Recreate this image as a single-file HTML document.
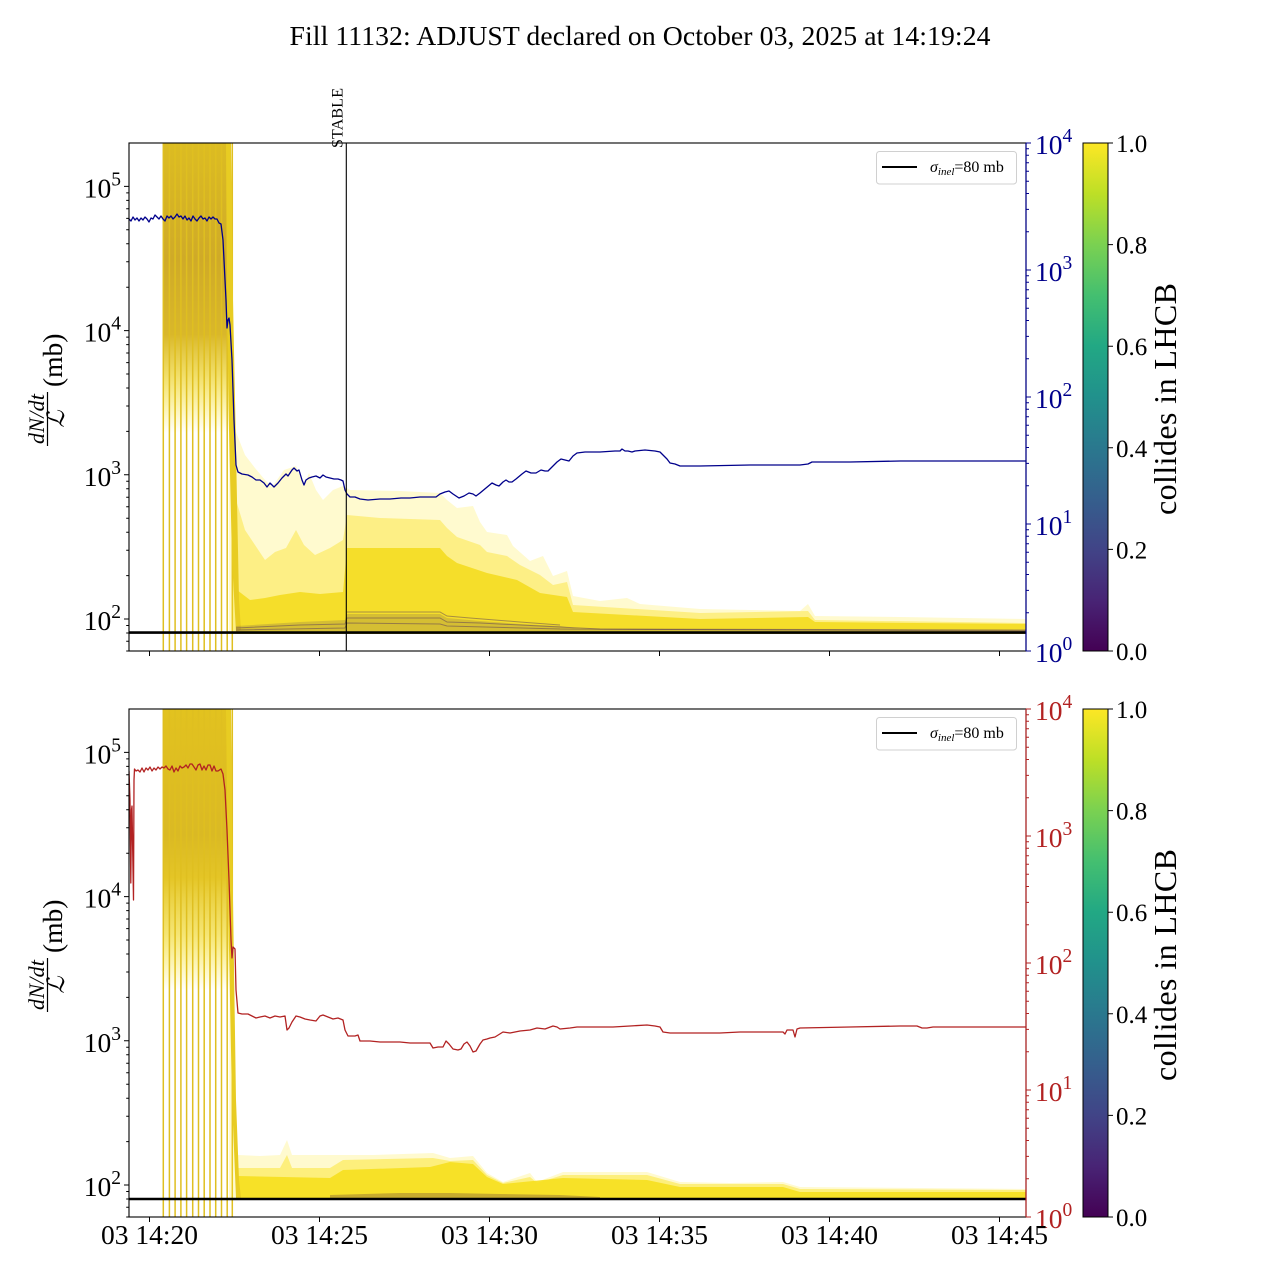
<!DOCTYPE html>
<html><head><meta charset="utf-8"><style>
body{margin:0;background:#fff}
svg{display:block}
text{font-family:"Liberation Serif","DejaVu Serif",serif;fill:#000}
</style></head><body>
<svg width="1280" height="1280" viewBox="0 0 1280 1280" xmlns="http://www.w3.org/2000/svg">
<defs>
<clipPath id="c1"><rect x="129" y="143" width="897" height="508"/></clipPath>
<clipPath id="c2"><rect x="129" y="709" width="897" height="508"/></clipPath>
<linearGradient id="gTop" gradientUnits="userSpaceOnUse" x1="0" y1="143" x2="0" y2="433">
<stop offset="0" stop-color="#dcbc22"/><stop offset="0.4" stop-color="#cfaa28"/>
<stop offset="0.66" stop-color="#d9b72a"/><stop offset="0.8" stop-color="#eed84e" stop-opacity="0.85"/>
<stop offset="1" stop-color="#fde725" stop-opacity="0"/></linearGradient>
<linearGradient id="gBot" gradientUnits="userSpaceOnUse" x1="0" y1="709" x2="0" y2="990">
<stop offset="0" stop-color="#e2c21f"/><stop offset="0.45" stop-color="#dab924"/>
<stop offset="0.6" stop-color="#e4c526"/><stop offset="0.8" stop-color="#f2de50" stop-opacity="0.8"/>
<stop offset="1" stop-color="#fde725" stop-opacity="0"/></linearGradient>
<linearGradient id="vir" x1="0" y1="1" x2="0" y2="0">
<stop offset="0" stop-color="#440154"/><stop offset="0.1" stop-color="#482475"/>
<stop offset="0.2" stop-color="#414487"/><stop offset="0.3" stop-color="#355f8d"/>
<stop offset="0.4" stop-color="#2a788e"/><stop offset="0.5" stop-color="#21918c"/>
<stop offset="0.6" stop-color="#22a884"/><stop offset="0.7" stop-color="#44bf70"/>
<stop offset="0.8" stop-color="#7ad151"/><stop offset="0.9" stop-color="#bddf26"/>
<stop offset="1" stop-color="#fde725"/></linearGradient>
</defs>
<rect width="1280" height="1280" fill="#fff"/>

<text x="640" y="45" text-anchor="middle" font-size="27.7" textLength="701">Fill 11132: ADJUST declared on October 03, 2025 at 14:19:24</text>

<!-- ============ TOP PANEL ============ -->
<g clip-path="url(#c1)">
<rect x="163" y="143" width="66" height="290" fill="url(#gTop)"/>
<g stroke="#dfbf20" stroke-width="1.5">
<path d="M163.3,143V651M169.4,143V651M175.1,143V651M180.9,143V651M186.6,143V651M192.7,143V651M198.5,143V651M204.2,143V651M210,143V651M215.7,143V651M221.5,143V651M227.2,143V651M232.3,143V651"/>
</g>
<polygon fill="#fde725" fill-opacity="0.22" points="229,143 231,143 233,330 236,432 245,455 255,468 265,480 272,487 284,470 296,466 304,485 309,473 316,490 323,500 333,490 343,486 350,490 400,491 440,493 447,500 457,508 473,506 480,522 487,532 507,535 513,546 530,561 543,556 553,576 567,571 573,596 600,601 627,598 640,604 700,609 800,611 808,604 815,616 900,617 1026,619 1026,634 229,634"/>
<polygon fill="#fbe32a" fill-opacity="0.45" points="233,420 236,500 245,530 255,545 265,560 275,552 286,548 296,530 304,545 315,555 330,548 343,540 347,515 380,518 440,520 447,528 457,537 480,545 487,552 507,556 520,565 540,575 553,585 567,582 573,605 700,613 808,611 815,620 1026,623 1026,634 233,634"/>
<polygon fill="#f4dc1e" fill-opacity="0.88" points="237,590 250,600 265,598 280,595 300,592 320,594 343,592 347,548 440,548 447,556 457,563 487,573 517,580 540,593 567,597 573,612 700,619 808,617 815,622 1026,624 1026,634 237,634"/>
<polygon fill="#e8cc22" points="226,143 231,143 233,300 236,450 239,600 241,630 236,632 232,560 229,430 227,300"/>
<polygon fill="#4a2a5e" fill-opacity="0.18" points="236,626 300,622 345,620 347,614 440,614 447,618 480,621 520,624 560,626 580,629 1026,630 1026,633 236,633"/>
<g fill="none" stroke="#4a2a5e" stroke-width="1" stroke-opacity="0.45">
<path d="M236,628 L300,625 L345,624 L347,618 L440,618 L447,622 L480,623 L560,627 L600,629 L1026,630"/>
<path d="M236,630 L345,628 L347,623 L440,624 L447,626 L560,629 L1026,631"/>
<path d="M347,612 L440,612 L447,616 L470,618 L520,622 L560,625"/>
</g>
<line x1="129" y1="632.6" x2="1026" y2="632.6" stroke="#000" stroke-width="2.6"/>
<path fill="none" stroke="#00008b" stroke-width="1.3" stroke-linejoin="round" d="M129,219 L131,221 L133,217 L135,220 L137,218 L139,221 L141,218 L143,220 L145,217 L147,219 L149,222 L151,218 L153,219 L155,215 L157,217 L159,219 L161,216 L163,219 L165,221 L167,216 L169,218 L171,216 L173,219 L175,217 L177,214 L179,217 L181,216 L183,219 L185,216 L187,220 L189,218 L191,221 L193,216 L195,219 L197,221 L199,218 L201,216 L203,219 L205,218 L207,221 L209,217 L211,219 L213,217 L215,219 L217,219 L219,223 L221,224 L223,240 L225,280 L226,300 L227,328 L228,320 L229,318 L230,325 L232,360 L234,420 L236,465 L238,472 L242,474 L248,475 L252,477 L256,480 L260,480 L264,483 L267,487 L270,483 L274,487 L278,483 L282,478 L286,474 L288,476 L292,470 L294,468 L297,471 L299,470 L302,480 L304,485 L306,480 L309,478 L312,477 L316,476 L320,478 L323,475 L326,477 L330,478 L334,479 L338,479 L341,480 L343,481 L345,490 L347,494 L350,497 L355,497 L360,499 L368,500 L380,499 L390,499 L401,498 L410,498 L420,497 L430,497 L436,497 L440,494 L445,492 L449,491 L453,494 L459,498 L464,496 L469,493 L473,494 L476,496 L480,493 L486,488 L492,483 L496,485 L499,486 L503,482 L506,480 L509,482 L512,482 L516,479 L522,474 L526,471 L531,473 L536,473 L541,470 L545,471 L548,471 L552,467 L557,462 L561,459 L565,460 L569,461 L573,456 L577,453 L585,452 L600,452 L615,451 L620,451 L622,449 L625,451 L628,451 L632,452 L635,451 L645,450 L655,451 L660,452 L664,456 L667,459 L670,463 L675,464 L680,466 L700,466 L750,465 L800,465 L808,464 L812,462 L850,462 L900,461 L950,461 L1000,461 L1026,461"/>
</g>
<line x1="346.3" y1="143" x2="346.3" y2="651" stroke="#000" stroke-width="1.1"/>
<text transform="translate(342.5,148) rotate(-90)" font-size="16" textLength="60">STABLE</text>

<!-- legend top -->
<rect x="876.5" y="151.5" width="140" height="32.5" rx="3" fill="#fff" fill-opacity="0.85" stroke="#d0d0d0"/>
<line x1="882" y1="167" x2="917" y2="167" stroke="#000" stroke-width="2"/>
<text x="930" y="172" font-size="16"><tspan font-style="italic">σ</tspan><tspan font-style="italic" font-size="11" dy="3">inel</tspan><tspan dy="-3">=80 mb</tspan></text>

<!-- frame top -->
<rect x="129" y="143" width="897" height="508" fill="none" stroke="#000" stroke-width="1.1"/>
<line x1="1026" y1="143" x2="1026" y2="651" stroke="#00008b" stroke-width="1.2"/>
<path stroke="#000" stroke-width="1" fill="none" d="M124,186.4H129M124,330.6H129M124,474.8H129M124,619H129
M126.2,651H129M126.2,641.3H129M126.2,633H129M126.2,625.5H129M126.2,575.6H129M126.2,550.2H129M126.2,532.2H129M126.2,518.2H129M126.2,506.8H129M126.2,497.2H129M126.2,488.8H129M126.2,481.3H129M126.2,431.4H129M126.2,406H129M126.2,388H129M126.2,374H129M126.2,362.6H129M126.2,353H129M126.2,344.6H129M126.2,337.1H129M126.2,287.2H129M126.2,261.8H129M126.2,243.8H129M126.2,229.8H129M126.2,218.4H129M126.2,208.8H129M126.2,200.4H129M126.2,192.9H129
M149.5,651v5M319.5,651v5M489.5,651v5M659.5,651v5M829.5,651v5M999.5,651v5"/>
<path stroke="#00008b" stroke-width="1" fill="none" d="M1026,143h5M1026,270h5M1026,397h5M1026,524h5M1026,651h5
M1026,612.8h3M1026,590.4h3M1026,574.5h3M1026,562.2h3M1026,552.2h3M1026,543.7h3M1026,536.3h3M1026,529.8h3
M1026,485.8h3M1026,463.4h3M1026,447.5h3M1026,435.2h3M1026,425.2h3M1026,416.7h3M1026,409.3h3M1026,402.8h3
M1026,358.8h3M1026,336.4h3M1026,320.5h3M1026,308.2h3M1026,298.2h3M1026,289.7h3M1026,282.3h3M1026,275.8h3
M1026,231.8h3M1026,209.4h3M1026,193.5h3M1026,181.2h3M1026,171.2h3M1026,162.7h3M1026,155.3h3M1026,148.8h3"/>
<g font-size="27.5" text-anchor="end">
<text x="121" y="197.4">10<tspan dy="-12" font-size="19.5">5</tspan></text>
<text x="121" y="341.6">10<tspan dy="-12" font-size="19.5">4</tspan></text>
<text x="121" y="485.8">10<tspan dy="-12" font-size="19.5">3</tspan></text>
<text x="121" y="630">10<tspan dy="-12" font-size="19.5">2</tspan></text>
</g>
<g font-size="27.5">
<text x="1035" y="154" style="fill:#00008b">10<tspan dy="-12" font-size="19.5">4</tspan></text>
<text x="1035" y="281" style="fill:#00008b">10<tspan dy="-12" font-size="19.5">3</tspan></text>
<text x="1035" y="408" style="fill:#00008b">10<tspan dy="-12" font-size="19.5">2</tspan></text>
<text x="1035" y="535" style="fill:#00008b">10<tspan dy="-12" font-size="19.5">1</tspan></text>
<text x="1035" y="662" style="fill:#00008b">10<tspan dy="-12" font-size="19.5">0</tspan></text>
</g>
<g transform="rotate(-90)">
<text x="-444" y="44" font-size="22" font-style="italic" textLength="50">dN/dt</text>
<line x1="-446" y1="47.5" x2="-392" y2="47.5" stroke="#000" stroke-width="1.2"/>
<text x="-419" y="64" font-size="24" font-style="italic" text-anchor="middle" style="font-family:'DejaVu Serif',serif">ℒ</text>
<text x="-387" y="62" font-size="27.5">(mb)</text>
</g>
<rect x="1083" y="143" width="25" height="508" fill="url(#vir)" stroke="#000" stroke-width="1"/>
<path stroke="#000" stroke-width="1" d="M1108,651h5M1108,549.4h5M1108,447.8h5M1108,346.2h5M1108,244.6h5M1108,143h5"/>
<g font-size="25">
<text x="1116" y="660">0.0</text><text x="1116" y="558.4">0.2</text><text x="1116" y="456.8">0.4</text>
<text x="1116" y="355.2">0.6</text><text x="1116" y="253.6">0.8</text><text x="1116" y="152">1.0</text>
</g>
<text transform="translate(1176,399) rotate(-90)" text-anchor="middle" font-size="32" textLength="232">collides in LHCB</text>

<!-- ============ BOTTOM PANEL ============ -->
<g clip-path="url(#c2)">
<rect x="163" y="709" width="66" height="290" fill="url(#gBot)"/>
<g stroke="#dfbf20" stroke-width="1.5">
<path d="M163.3,709V1217M169.4,709V1217M175.1,709V1217M180.9,709V1217M186.6,709V1217M192.7,709V1217M198.5,709V1217M204.2,709V1217M210,709V1217M215.7,709V1217M221.5,709V1217M227.2,709V1217M232.3,709V1217"/>
</g>
<polygon fill="#fde725" fill-opacity="0.22" points="230,709 233,950 236,1120 238,1155 260,1156 280,1155 287,1140 292,1155 340,1155 373,1155 433,1153 450,1158 473,1156 487,1173 503,1182 530,1173 537,1182 563,1172 647,1172 680,1182 730,1183 783,1182 800,1187 1026,1189 1026,1200 229,1200"/>
<polygon fill="#fbe32a" fill-opacity="0.5" points="236,1150 238,1168 280,1168 287,1155 292,1168 330,1168 343,1160 433,1158 450,1161 473,1160 487,1175 503,1183 530,1177 537,1183 563,1175 647,1175 680,1184 783,1184 800,1189 1026,1190 1026,1200 236,1200"/>
<polygon fill="#f6df1e" fill-opacity="0.9" points="238,1176 330,1178 343,1170 430,1167 450,1162 473,1164 487,1177 503,1184 563,1178 647,1180 680,1187 783,1187 800,1192 1026,1192 1026,1200 238,1200"/>
<polygon fill="#e8cc22" points="226,709 231,709 233,900 236,1100 239,1180 241,1198 236,1198 232,1100 229,950 227,800"/>
<polygon fill="#5a3040" fill-opacity="0.3" points="330,1195 400,1193 450,1193 500,1194 560,1195 600,1197 600,1198 330,1198"/>
<line x1="129" y1="1199" x2="1026" y2="1199" stroke="#000" stroke-width="2.6"/>
<path fill="none" stroke="#b22222" stroke-width="1.3" stroke-linejoin="round" d="M129,771 L130,800 L130.8,883 L131.5,810 L132,806 L133,870 L133.5,900 L134,780 L134.5,769 L136,771 L138,770 L140,772 L142,768 L144,772 L146,768 L148,770 L150,767 L152,771 L154,768 L156,770 L158,767 L160,769 L162,767 L164,768 L166,766 L168,769 L170,770 L172,766 L174,772 L176,768 L178,771 L180,766 L182,768 L184,767 L186,765 L188,768 L190,764 L192,764 L194,767 L196,770 L198,765 L200,764 L202,770 L204,766 L206,770 L208,765 L210,765 L212,771 L214,766 L216,771 L218,771 L221,769 L223,774 L225,790 L227,830 L229,880 L231,940 L232,958 L233,947 L235,949 L236,990 L238,1013 L242,1014 L248,1014 L252,1016 L256,1018 L260,1017 L265,1016 L270,1018 L275,1016 L280,1017 L285,1016 L287,1030 L289,1028 L292,1022 L296,1016 L300,1017 L305,1019 L310,1020 L316,1021 L320,1016 L323,1015 L328,1017 L333,1019 L338,1018 L343,1020 L345,1030 L348,1036 L355,1036 L358,1035 L360,1041 L370,1041 L380,1042 L390,1042 L400,1042 L410,1043 L420,1043 L430,1043 L433,1048 L438,1047 L443,1047 L446,1041 L449,1044 L453,1049 L458,1050 L461,1049 L464,1044 L467,1042 L470,1046 L473,1052 L476,1051 L480,1044 L483,1040 L487,1039 L490,1038 L495,1037 L503,1032 L510,1033 L520,1031 L530,1030 L537,1028 L545,1029 L553,1026 L557,1027 L560,1029 L570,1028 L577,1027 L590,1027 L613,1027 L630,1026 L647,1025 L655,1026 L660,1027 L663,1032 L670,1033 L677,1033 L700,1033 L720,1033 L740,1032 L760,1032 L783,1032 L785,1034 L787,1030 L793,1030 L795,1037 L797,1029 L800,1028 L850,1027 L900,1026 L917,1026 L922,1028 L927,1028 L933,1027 L980,1027 L1026,1027"/>
</g>

<rect x="876.5" y="717.5" width="140" height="32.5" rx="3" fill="#fff" fill-opacity="0.85" stroke="#d0d0d0"/>
<line x1="882" y1="733" x2="917" y2="733" stroke="#000" stroke-width="2"/>
<text x="930" y="738" font-size="16"><tspan font-style="italic">σ</tspan><tspan font-style="italic" font-size="11" dy="3">inel</tspan><tspan dy="-3">=80 mb</tspan></text>

<rect x="129" y="709" width="897" height="508" fill="none" stroke="#000" stroke-width="1.1"/>
<line x1="1026" y1="709" x2="1026" y2="1217" stroke="#b22222" stroke-width="1.2"/>
<g transform="translate(0,566)">
<path stroke="#000" stroke-width="1" fill="none" d="M124,186.4H129M124,330.6H129M124,474.8H129M124,619H129
M126.2,651H129M126.2,641.3H129M126.2,633H129M126.2,625.5H129M126.2,575.6H129M126.2,550.2H129M126.2,532.2H129M126.2,518.2H129M126.2,506.8H129M126.2,497.2H129M126.2,488.8H129M126.2,481.3H129M126.2,431.4H129M126.2,406H129M126.2,388H129M126.2,374H129M126.2,362.6H129M126.2,353H129M126.2,344.6H129M126.2,337.1H129M126.2,287.2H129M126.2,261.8H129M126.2,243.8H129M126.2,229.8H129M126.2,218.4H129M126.2,208.8H129M126.2,200.4H129M126.2,192.9H129
M149.5,651v5M319.5,651v5M489.5,651v5M659.5,651v5M829.5,651v5M999.5,651v5"/>
<path stroke="#b22222" stroke-width="1" fill="none" d="M1026,143h5M1026,270h5M1026,397h5M1026,524h5M1026,651h5
M1026,612.8h3M1026,590.4h3M1026,574.5h3M1026,562.2h3M1026,552.2h3M1026,543.7h3M1026,536.3h3M1026,529.8h3
M1026,485.8h3M1026,463.4h3M1026,447.5h3M1026,435.2h3M1026,425.2h3M1026,416.7h3M1026,409.3h3M1026,402.8h3
M1026,358.8h3M1026,336.4h3M1026,320.5h3M1026,308.2h3M1026,298.2h3M1026,289.7h3M1026,282.3h3M1026,275.8h3
M1026,231.8h3M1026,209.4h3M1026,193.5h3M1026,181.2h3M1026,171.2h3M1026,162.7h3M1026,155.3h3M1026,148.8h3"/>
<g font-size="27.5" text-anchor="end">
<text x="121" y="197.4">10<tspan dy="-12" font-size="19.5">5</tspan></text>
<text x="121" y="341.6">10<tspan dy="-12" font-size="19.5">4</tspan></text>
<text x="121" y="485.8">10<tspan dy="-12" font-size="19.5">3</tspan></text>
<text x="121" y="630">10<tspan dy="-12" font-size="19.5">2</tspan></text>
</g>
<g font-size="27.5">
<text x="1035" y="154" style="fill:#b22222">10<tspan dy="-12" font-size="19.5">4</tspan></text>
<text x="1035" y="281" style="fill:#b22222">10<tspan dy="-12" font-size="19.5">3</tspan></text>
<text x="1035" y="408" style="fill:#b22222">10<tspan dy="-12" font-size="19.5">2</tspan></text>
<text x="1035" y="535" style="fill:#b22222">10<tspan dy="-12" font-size="19.5">1</tspan></text>
<text x="1035" y="662" style="fill:#b22222">10<tspan dy="-12" font-size="19.5">0</tspan></text>
</g>
<rect x="1083" y="143" width="25" height="508" fill="url(#vir)" stroke="#000" stroke-width="1"/>
<path stroke="#000" stroke-width="1" d="M1108,651h5M1108,549.4h5M1108,447.8h5M1108,346.2h5M1108,244.6h5M1108,143h5"/>
<g font-size="25">
<text x="1116" y="660">0.0</text><text x="1116" y="558.4">0.2</text><text x="1116" y="456.8">0.4</text>
<text x="1116" y="355.2">0.6</text><text x="1116" y="253.6">0.8</text><text x="1116" y="152">1.0</text>
</g>
<text transform="translate(1176,399) rotate(-90)" text-anchor="middle" font-size="32" textLength="232">collides in LHCB</text>
</g>
<g transform="translate(0,566) rotate(-90)">
<text x="-444" y="44" font-size="22" font-style="italic" textLength="50">dN/dt</text>
<line x1="-446" y1="47.5" x2="-392" y2="47.5" stroke="#000" stroke-width="1.2"/>
<text x="-419" y="64" font-size="24" font-style="italic" text-anchor="middle" style="font-family:'DejaVu Serif',serif">ℒ</text>
<text x="-387" y="62" font-size="27.5">(mb)</text>
</g>

<g font-size="27.5" text-anchor="middle">
<text x="149.5" y="1244">03 14:20</text>
<text x="319.5" y="1244">03 14:25</text>
<text x="489.5" y="1244">03 14:30</text>
<text x="659.5" y="1244">03 14:35</text>
<text x="829.5" y="1244">03 14:40</text>
<text x="999.5" y="1244">03 14:45</text>
</g>
</svg>
</body></html>
